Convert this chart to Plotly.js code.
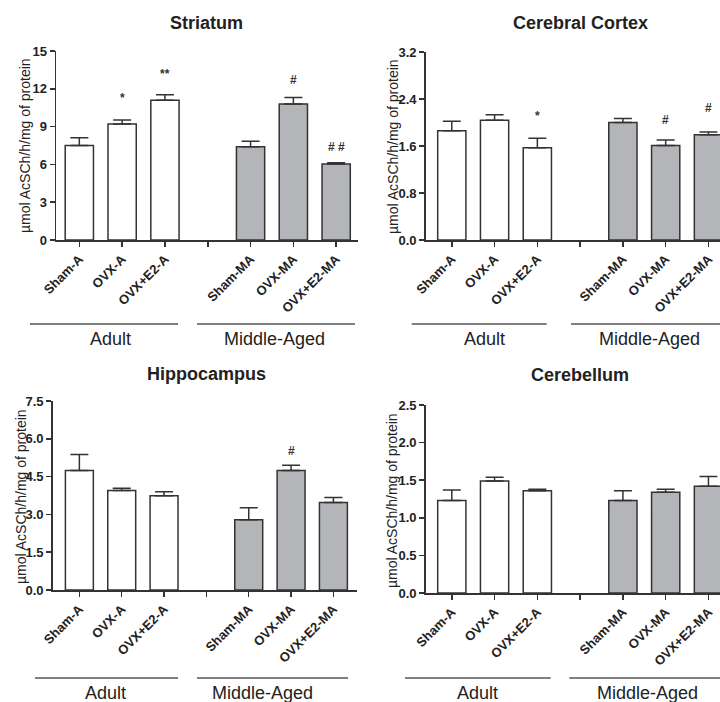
<!DOCTYPE html>
<html>
<head>
<meta charset="utf-8">
<script src="https://cdn.plot.ly/plotly-3.0.1.min.js"></script>
<style>html,body{margin:0;padding:0;background:#fff}#chart{width:720px;height:702px}</style>
</head>
<body>
<div id="chart"></div>
<script>
// ---- data ----
const categories = ['Sham-A', 'OVX-A', 'OVX+E2-A', ' ', 'Sham-MA', 'OVX-MA', 'OVX+E2-MA'];
const adultGroups = ['Sham-A', 'OVX-A', 'OVX+E2-A'];
const middleGroups = ['Sham-MA', 'OVX-MA', 'OVX+E2-MA'];
const panelTitles = ['Striatum', 'Cerebral Cortex', 'Hippocampus', 'Cerebellum'];
const yAxisTitle = 'µmol AcSCh/h/mg of protein';
const ageLabels = ['Adult', 'Middle-Aged'];

const striatumAdult = [7.5, 9.2, 11.1];
const striatumAdultErr = [0.62, 0.32, 0.42];
const striatumMiddle = [7.4, 10.8, 6.03];
const striatumMiddleErr = [0.43, 0.5, 0.1];

const cortexAdult = [1.86, 2.04, 1.57];
const cortexAdultErr = [0.16, 0.09, 0.16];
const cortexMiddle = [2.0, 1.61, 1.79];
const cortexMiddleErr = [0.07, 0.09, 0.05];

const hippocampusAdult = [4.74, 3.95, 3.74];
const hippocampusAdultErr = [0.64, 0.09, 0.16];
const hippocampusMiddle = [2.79, 4.74, 3.47];
const hippocampusMiddleErr = [0.47, 0.21, 0.2];

const cerebellumAdult = [1.23, 1.49, 1.36];
const cerebellumAdultErr = [0.14, 0.05, 0.02];
const cerebellumMiddle = [1.23, 1.34, 1.42];
const cerebellumMiddleErr = [0.13, 0.04, 0.13];

const yTickVals = [[0,3,6,9,12,15],[0,0.8,1.6,2.4,3.2],[0,1.5,3,4.5,6,7.5],[0,0.5,1,1.5,2,2.5]];
const yTickText = [['0','3','6','9','12','15'],['0.0','0.8','1.6','2.4','3.2'],['0.0','1.5','3.0','4.5','6.0','7.5'],['0.0','0.5','1.0','1.5','2.0','2.5']];

// significance marks: [panel, category, label, y-value]
const sigMarks = [
  [0, 'OVX-A', '*', 11.3],
  [0, 'OVX+E2-A', '**', 13.2],
  [0, 'OVX-MA', '#', 12.7],
  [0, 'OVX+E2-MA', '# #', 7.4],
  [1, 'OVX+E2-A', '*', 2.11],
  [1, 'OVX-MA', '#', 2.04],
  [1, 'OVX+E2-MA', '#', 2.24],
  [2, 'OVX-MA', '#', 5.53]
];

// ---- layout helpers ----
const W = 720, H = 702;
const px = v => v / W;
const py = v => 1 - v / H;
const FONT = 'Arial, "Liberation Sans", Helvetica, sans-serif';
const INK = '#333333';
const GRAY = '#b4b5b9';

const panels = [
  {a: striatumAdult, ae: striatumAdultErr, m: striatumMiddle, me: striatumMiddleErr,
   xd: [56, 358], yd: [240, 51], yr: [0, 15], xr: [-0.545, 6.51],
   title: [207, 23], ytitle: [25, 146], lines: [[30, 178], [197, 355], 324], labels: [[110, 339], [274, 339]]},
  {a: cortexAdult, ae: cortexAdultErr, m: cortexMiddle, me: cortexMiddleErr,
   xd: [425.7, 720], yd: [240, 52], yr: [0, 3.2], xr: [-0.61, 6.27],
   title: [580, 23], ytitle: [393, 146], lines: [[411.7, 546.7], [571, 720], 324], labels: [[484, 339], [649, 339]]},
  {a: hippocampusAdult, ae: hippocampusAdultErr, m: hippocampusMiddle, me: hippocampusMiddleErr,
   xd: [52.7, 356.7], yd: [590, 401], yr: [0, 7.5], xr: [-0.63, 6.55],
   title: [207, 374], ytitle: [21, 497], lines: [[35, 178], [197, 348], 678], labels: [[105, 693], [262, 693]]},
  {a: cerebellumAdult, ae: cerebellumAdultErr, m: cerebellumMiddle, me: cerebellumMiddleErr,
   xd: [425.7, 720], yd: [593, 405], yr: [0, 2.5], xr: [-0.61, 6.27],
   title: [580, 375], ytitle: [392, 500], lines: [[405, 550.7], [569.3, 720], 678], labels: [[477, 693], [647, 693]]}
];

const traces = [];
const layout = {
  width: W, height: H,
  margin: {l: 0, r: 0, t: 0, b: 0},
  paper_bgcolor: '#ffffff', plot_bgcolor: '#ffffff',
  showlegend: false,
  font: {family: FONT, color: '#222222'},
  annotations: [], shapes: [],
  bargap: 0.34
};

panels.forEach((p, i) => {
  const n = i === 0 ? '' : String(i + 1);
  const xa = 'x' + n, ya = 'y' + n;
  const errStyle = {type: 'data', symmetric: false, color: INK, thickness: 1.5, width: 9};
  traces.push({
    type: 'bar', x: adultGroups, y: p.a, xaxis: xa, yaxis: ya, width: 0.66,
    marker: {color: '#ffffff', line: {color: INK, width: 1.5}},
    error_y: Object.assign({array: p.ae, arrayminus: p.ae.map(() => 0)}, errStyle),
    hoverinfo: 'skip'
  });
  traces.push({
    type: 'bar', x: middleGroups, y: p.m, xaxis: xa, yaxis: ya, width: 0.66,
    marker: {color: GRAY, line: {color: INK, width: 1.5}},
    error_y: Object.assign({array: p.me, arrayminus: p.me.map(() => 0)}, errStyle),
    hoverinfo: 'skip'
  });
  layout['xaxis' + n] = {
    domain: [px(p.xd[0]), px(p.xd[1])], anchor: ya,
    type: 'category', categoryorder: 'array', categoryarray: categories,
    tickmode: 'array', tickvals: categories, ticktext: categories,
    range: p.xr, showgrid: false, zeroline: false,
    showline: true, linecolor: INK, linewidth: 1.5,
    ticks: 'outside', ticklen: 5, tickwidth: 1.5, tickcolor: INK,
    tickangle: -45, tickfont: {family: FONT, size: 13, color: '#222222', weight: 'bold'},
    fixedrange: true
  };
  layout['yaxis' + n] = {
    domain: [py(p.yd[0]), py(p.yd[1])], anchor: xa,
    range: p.yr, tickmode: 'array', tickvals: yTickVals[i], ticktext: yTickText[i],
    showgrid: false, zeroline: false,
    showline: true, linecolor: INK, linewidth: 1.5,
    ticks: 'outside', ticklen: 5, tickwidth: 1.5, tickcolor: INK,
    tickfont: {family: FONT, size: 13, color: '#222222', weight: 'bold'},
    fixedrange: true
  };
  layout.annotations.push({
    xref: 'paper', yref: 'paper', x: px(p.title[0]), y: py(p.title[1]),
    xanchor: 'center', yanchor: 'middle', showarrow: false,
    text: '<b>' + panelTitles[i] + '</b>', font: {family: FONT, size: 18, color: '#222222'}
  });
  layout.annotations.push({
    xref: 'paper', yref: 'paper', x: px(p.ytitle[0]), y: py(p.ytitle[1]),
    xanchor: 'center', yanchor: 'middle', showarrow: false, textangle: -90,
    text: yAxisTitle, font: {family: FONT, size: 14, color: '#222222'}
  });
  [0, 1].forEach(k => {
    layout.shapes.push({
      type: 'line', xref: 'paper', yref: 'paper',
      x0: px(p.lines[k][0]), x1: px(p.lines[k][1]), y0: py(p.lines[2]), y1: py(p.lines[2]),
      line: {color: '#555555', width: 1.5}
    });
    layout.annotations.push({
      xref: 'paper', yref: 'paper', x: px(p.labels[k][0]), y: py(p.labels[k][1]),
      xanchor: 'center', yanchor: 'middle', showarrow: false,
      text: ageLabels[k], font: {family: FONT, size: 18, color: '#222222'}
    });
  });
});

sigMarks.forEach(s => {
  const n = s[0] === 0 ? '' : String(s[0] + 1);
  layout.annotations.push({
    xref: 'x' + n, yref: 'y' + n, x: s[1], y: s[3],
    xanchor: 'center', yanchor: 'middle', showarrow: false,
    text: '<b>' + s[2] + '</b>', font: {family: FONT, size: 12, color: '#333333'}
  });
});

Plotly.newPlot('chart', traces, layout, {staticPlot: true, displayModeBar: false});
</script>
</body>
</html>
